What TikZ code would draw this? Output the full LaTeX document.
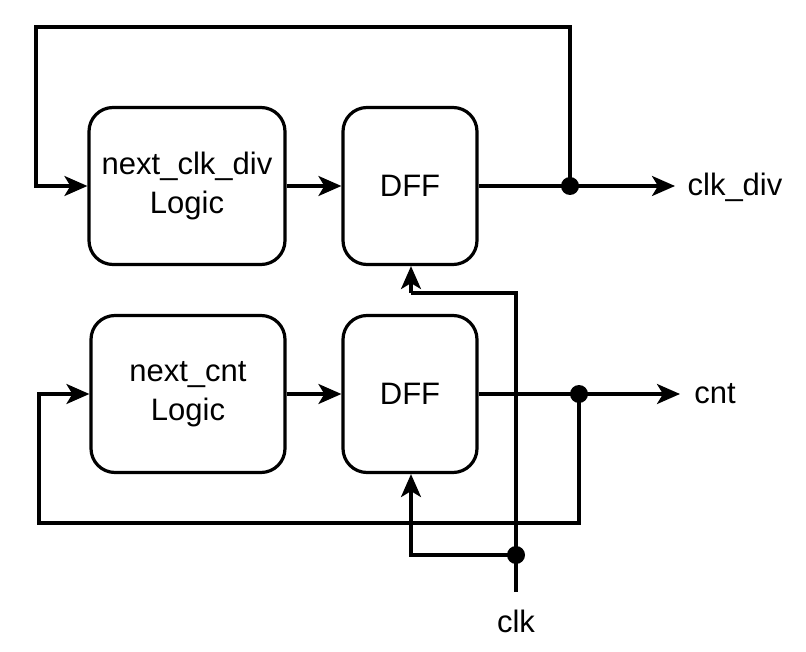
\documentclass[tikz,border=0pt]{standalone}
\usepackage{fontspec}
\setmainfont{Liberation Sans}
\usetikzlibrary{arrows.meta}

\tikzset{
	blk/.style = {draw, line width = 3.2pt, rounded corners = 24pt, align = center,
		inner sep = 0pt, font = \fontsize{31}{39}\selectfont},
	dot/.style = {circle, fill, inner sep = 0pt, minimum size = 18pt},
	lbl/.style = {font = \fontsize{31}{36}\selectfont},
	wire/.style = {line width = 3.2pt, -{Stealth[length = 23pt, width = 20pt, inset = 6pt]}}
}

\begin{document}
\begin{tikzpicture}[x = 1pt, y = -1pt]
	\useasboundingbox (0,0) rectangle (806,652);
	% blocks
	\node[blk, minimum width = 196pt, minimum height = 157pt] (logA) at (187,186) {next\_clk\_div\\Logic};
	\node[blk, minimum width = 134pt, minimum height = 157pt] (dffA) at (410,186) {DFF};
	\node[blk, minimum width = 194pt, minimum height = 157pt] (logB) at (188,394) {next\_cnt\\Logic};
	\node[blk, minimum width = 134pt, minimum height = 157pt] (dffB) at (410,394) {DFF};
	% junctions and pins
	\node[dot] (jA) at (570,186) {};
	\node[dot] (jB) at (579,394) {};
	\node[dot] (jC) at (516,555) {};
	\coordinate (clkin) at (516,592);
	\coordinate (outA) at (675,186);
	\coordinate (outB) at (680,394);
	\node[lbl] (clk) at (516,621) {clk};
	\node[lbl] (clkdiv) at (735,187) {clk\_div};
	\node[lbl] (cnt) at (715,394) {cnt};

	\draw[line width = 3.2pt]
	(dffA.east) -- (jA.center)
	(dffB.east) -- (jB.center)
	(clkin) -- (jC.center) -- (516,293) -- (411,293)
	;
	\draw[wire] (logA.east) -- (dffA.west);
	\draw[wire] (logB.east) -- (dffB.west);
	\draw[wire] (jA.center) -- (outA);
	\draw[wire] (jB.center) -- (outB);
	\draw[wire] (jA.center) -- (570,27) -- (36,27) |- (logA.west);
	\draw[wire] (jB.center) -- (579,523) -- (39,523) |- (logB.west);
	\draw[wire] (411,293) -- (dffA.south -| 411,0);
	\draw[wire] (jC.center) -| (dffB.south -| 411,0);
\end{tikzpicture}
\end{document}
